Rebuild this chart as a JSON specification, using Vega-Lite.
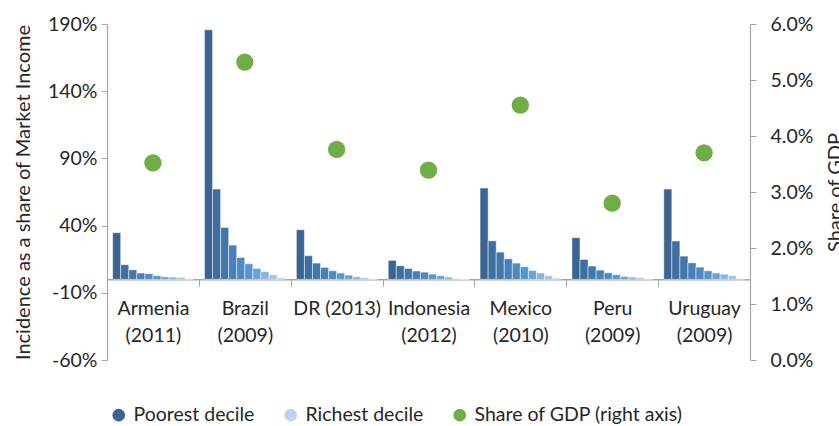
{
  "$schema": "https://vega.github.io/schema/vega-lite/v6.json",
  "autosize": {"type": "none"},
  "padding": {"left": 107, "top": 24, "right": 89, "bottom": 66},
  "width": 643,
  "height": 336,
  "config": {
    "view": {"stroke": null},
    "font": "Lato",
    "axis": {"labelFont": "Lato", "titleFont": "Lato", "labelFontSize": 19.5, "titleFontSize": 20, "labelColor": "#262626", "titleColor": "#262626", "titleFontWeight": "normal", "domainColor": "#a6a6a6", "tickColor": "#a6a6a6", "grid": false},
    "legend": {"labelFont": "Lato", "labelFontSize": 19.5, "labelColor": "#262626", "labelLimit": 0}
  },
  "datasets": {
    "bars": [
      {"country": "Armenia (2011)", "decile": 1, "series": "Poorest decile", "value": 0.347},
      {"country": "Armenia (2011)", "decile": 2, "series": "Decile 2", "value": 0.109},
      {"country": "Armenia (2011)", "decile": 3, "series": "Decile 3", "value": 0.071},
      {"country": "Armenia (2011)", "decile": 4, "series": "Decile 4", "value": 0.047},
      {"country": "Armenia (2011)", "decile": 5, "series": "Decile 5", "value": 0.042},
      {"country": "Armenia (2011)", "decile": 6, "series": "Decile 6", "value": 0.027},
      {"country": "Armenia (2011)", "decile": 7, "series": "Decile 7", "value": 0.019},
      {"country": "Armenia (2011)", "decile": 8, "series": "Decile 8", "value": 0.017},
      {"country": "Armenia (2011)", "decile": 9, "series": "Decile 9", "value": 0.014},
      {"country": "Armenia (2011)", "decile": 10, "series": "Richest decile", "value": 0.004},
      {"country": "Brazil (2009)", "decile": 1, "series": "Poorest decile", "value": 1.857},
      {"country": "Brazil (2009)", "decile": 2, "series": "Decile 2", "value": 0.672},
      {"country": "Brazil (2009)", "decile": 3, "series": "Decile 3", "value": 0.386},
      {"country": "Brazil (2009)", "decile": 4, "series": "Decile 4", "value": 0.255},
      {"country": "Brazil (2009)", "decile": 5, "series": "Decile 5", "value": 0.163},
      {"country": "Brazil (2009)", "decile": 6, "series": "Decile 6", "value": 0.116},
      {"country": "Brazil (2009)", "decile": 7, "series": "Decile 7", "value": 0.081},
      {"country": "Brazil (2009)", "decile": 8, "series": "Decile 8", "value": 0.057},
      {"country": "Brazil (2009)", "decile": 9, "series": "Decile 9", "value": 0.034},
      {"country": "Brazil (2009)", "decile": 10, "series": "Richest decile", "value": 0.012},
      {"country": "DR (2013)", "decile": 1, "series": "Poorest decile", "value": 0.369},
      {"country": "DR (2013)", "decile": 2, "series": "Decile 2", "value": 0.176},
      {"country": "DR (2013)", "decile": 3, "series": "Decile 3", "value": 0.121},
      {"country": "DR (2013)", "decile": 4, "series": "Decile 4", "value": 0.089},
      {"country": "DR (2013)", "decile": 5, "series": "Decile 5", "value": 0.064},
      {"country": "DR (2013)", "decile": 6, "series": "Decile 6", "value": 0.047},
      {"country": "DR (2013)", "decile": 7, "series": "Decile 7", "value": 0.032},
      {"country": "DR (2013)", "decile": 8, "series": "Decile 8", "value": 0.019},
      {"country": "DR (2013)", "decile": 9, "series": "Decile 9", "value": 0.012},
      {"country": "DR (2013)", "decile": 10, "series": "Richest decile", "value": 0.003},
      {"country": "Indonesia (2012)", "decile": 1, "series": "Poorest decile", "value": 0.141},
      {"country": "Indonesia (2012)", "decile": 2, "series": "Decile 2", "value": 0.101},
      {"country": "Indonesia (2012)", "decile": 3, "series": "Decile 3", "value": 0.081},
      {"country": "Indonesia (2012)", "decile": 4, "series": "Decile 4", "value": 0.062},
      {"country": "Indonesia (2012)", "decile": 5, "series": "Decile 5", "value": 0.054},
      {"country": "Indonesia (2012)", "decile": 6, "series": "Decile 6", "value": 0.039},
      {"country": "Indonesia (2012)", "decile": 7, "series": "Decile 7", "value": 0.027},
      {"country": "Indonesia (2012)", "decile": 8, "series": "Decile 8", "value": 0.017},
      {"country": "Indonesia (2012)", "decile": 9, "series": "Decile 9", "value": 0.004},
      {"country": "Indonesia (2012)", "decile": 10, "series": "Richest decile", "value": -0.003},
      {"country": "Mexico (2010)", "decile": 1, "series": "Poorest decile", "value": 0.679},
      {"country": "Mexico (2010)", "decile": 2, "series": "Decile 2", "value": 0.287},
      {"country": "Mexico (2010)", "decile": 3, "series": "Decile 3", "value": 0.203},
      {"country": "Mexico (2010)", "decile": 4, "series": "Decile 4", "value": 0.153},
      {"country": "Mexico (2010)", "decile": 5, "series": "Decile 5", "value": 0.121},
      {"country": "Mexico (2010)", "decile": 6, "series": "Decile 6", "value": 0.094},
      {"country": "Mexico (2010)", "decile": 7, "series": "Decile 7", "value": 0.066},
      {"country": "Mexico (2010)", "decile": 8, "series": "Decile 8", "value": 0.047},
      {"country": "Mexico (2010)", "decile": 9, "series": "Decile 9", "value": 0.027},
      {"country": "Mexico (2010)", "decile": 10, "series": "Richest decile", "value": 0.010},
      {"country": "Peru (2009)", "decile": 1, "series": "Poorest decile", "value": 0.310},
      {"country": "Peru (2009)", "decile": 2, "series": "Decile 2", "value": 0.148},
      {"country": "Peru (2009)", "decile": 3, "series": "Decile 3", "value": 0.099},
      {"country": "Peru (2009)", "decile": 4, "series": "Decile 4", "value": 0.069},
      {"country": "Peru (2009)", "decile": 5, "series": "Decile 5", "value": 0.049},
      {"country": "Peru (2009)", "decile": 6, "series": "Decile 6", "value": 0.034},
      {"country": "Peru (2009)", "decile": 7, "series": "Decile 7", "value": 0.022},
      {"country": "Peru (2009)", "decile": 8, "series": "Decile 8", "value": 0.017},
      {"country": "Peru (2009)", "decile": 9, "series": "Decile 9", "value": 0.012},
      {"country": "Peru (2009)", "decile": 10, "series": "Richest decile", "value": 0.004},
      {"country": "Uruguay (2009)", "decile": 1, "series": "Poorest decile", "value": 0.672},
      {"country": "Uruguay (2009)", "decile": 2, "series": "Decile 2", "value": 0.285},
      {"country": "Uruguay (2009)", "decile": 3, "series": "Decile 3", "value": 0.173},
      {"country": "Uruguay (2009)", "decile": 4, "series": "Decile 4", "value": 0.123},
      {"country": "Uruguay (2009)", "decile": 5, "series": "Decile 5", "value": 0.091},
      {"country": "Uruguay (2009)", "decile": 6, "series": "Decile 6", "value": 0.064},
      {"country": "Uruguay (2009)", "decile": 7, "series": "Decile 7", "value": 0.047},
      {"country": "Uruguay (2009)", "decile": 8, "series": "Decile 8", "value": 0.039},
      {"country": "Uruguay (2009)", "decile": 9, "series": "Decile 9", "value": 0.027},
      {"country": "Uruguay (2009)", "decile": 10, "series": "Richest decile", "value": 0.007}
    ],
    "gdp": [
      {"country": "Armenia (2011)", "series": "Share of GDP (right axis)", "gdp": 0.0352},
      {"country": "Brazil (2009)", "series": "Share of GDP (right axis)", "gdp": 0.0532},
      {"country": "DR (2013)", "series": "Share of GDP (right axis)", "gdp": 0.0376},
      {"country": "Indonesia (2012)", "series": "Share of GDP (right axis)", "gdp": 0.0339},
      {"country": "Mexico (2010)", "series": "Share of GDP (right axis)", "gdp": 0.0455},
      {"country": "Peru (2009)", "series": "Share of GDP (right axis)", "gdp": 0.0280},
      {"country": "Uruguay (2009)", "series": "Share of GDP (right axis)", "gdp": 0.0370}
    ]
  },
  "encoding": {
    "x": {
      "field": "country", "type": "nominal", "sort": null,
      "scale": {"paddingInner": 0, "paddingOuter": 0},
      "axis": {
        "title": null, "labelAngle": 0, "offset": -80.64, "tickBand": "extent", "tickSize": 7,
        "domainWidth": 1.5, "labelPadding": 13, "labelLineHeight": 27,
        "labelExpr": "datum.label === 'DR (2013)' ? datum.label : split(datum.label, ' ')"
      }
    }
  },
  "layer": [
    {
      "data": {"name": "bars"},
      "mark": {"type": "bar", "stroke": "#ffffff", "strokeWidth": 0.6, "strokeOpacity": 0.8},
      "encoding": {
        "xOffset": {"field": "decile", "type": "ordinal", "scale": {"paddingInner": 0, "paddingOuter": 0.7}},
        "y": {
          "field": "value", "type": "quantitative",
          "scale": {"domain": [-0.6, 1.9], "nice": false, "zero": false},
          "axis": {"title": "Incidence as a share of Market Income", "values": [-0.6, -0.1, 0.4, 0.9, 1.4, 1.9], "format": ".0%", "labelExpr": "replace(datum.label, '\u2212', '-')", "tickSize": 6, "labelPadding": 4, "titlePadding": 14, "domainWidth": 1.2}
        },
        "color": {
          "field": "series", "type": "nominal",
          "scale": {
            "domain": ["Poorest decile", "Decile 2", "Decile 3", "Decile 4", "Decile 5", "Decile 6", "Decile 7", "Decile 8", "Decile 9", "Richest decile", "Share of GDP (right axis)"],
            "range": ["#3b6590", "#3e6f9e", "#4277aa", "#4880b8", "#4f89c2", "#5795d0", "#6aa2da", "#86b3e0", "#a3c3e8", "#bdd3ec", "#70ad47"]
          },
          "legend": {
            "title": null, "orient": "none", "direction": "horizontal", "legendX": 2, "legendY": 381,
            "values": ["Poorest decile", "Richest decile", "Share of GDP (right axis)"],
            "symbolSize": 160, "symbolStrokeWidth": 0, "columnPadding": 26, "labelOffset": 5,
            "encode": {"symbols": {"update": {"shape": {"signal": "datum.value === 'Share of GDP (right axis)' ? 'circle' : 'square'"}}}}
          }
        }
      }
    },
    {
      "data": {"name": "gdp"},
      "mark": {"type": "point", "filled": true, "size": 300, "opacity": 1},
      "encoding": {
        "y": {
          "field": "gdp", "type": "quantitative",
          "scale": {"domain": [0, 0.06], "nice": false},
          "axis": {"orient": "right", "title": "Share of GDP", "values": [0, 0.01, 0.02, 0.03, 0.04, 0.05, 0.06], "format": ".1%", "tickSize": 6, "labelPadding": 14, "titlePadding": 33, "titleAngle": 270, "domainWidth": 1.2}
        },
        "color": {"field": "series", "type": "nominal"}
      }
    }
  ],
  "resolve": {"scale": {"y": "independent"}}
}
